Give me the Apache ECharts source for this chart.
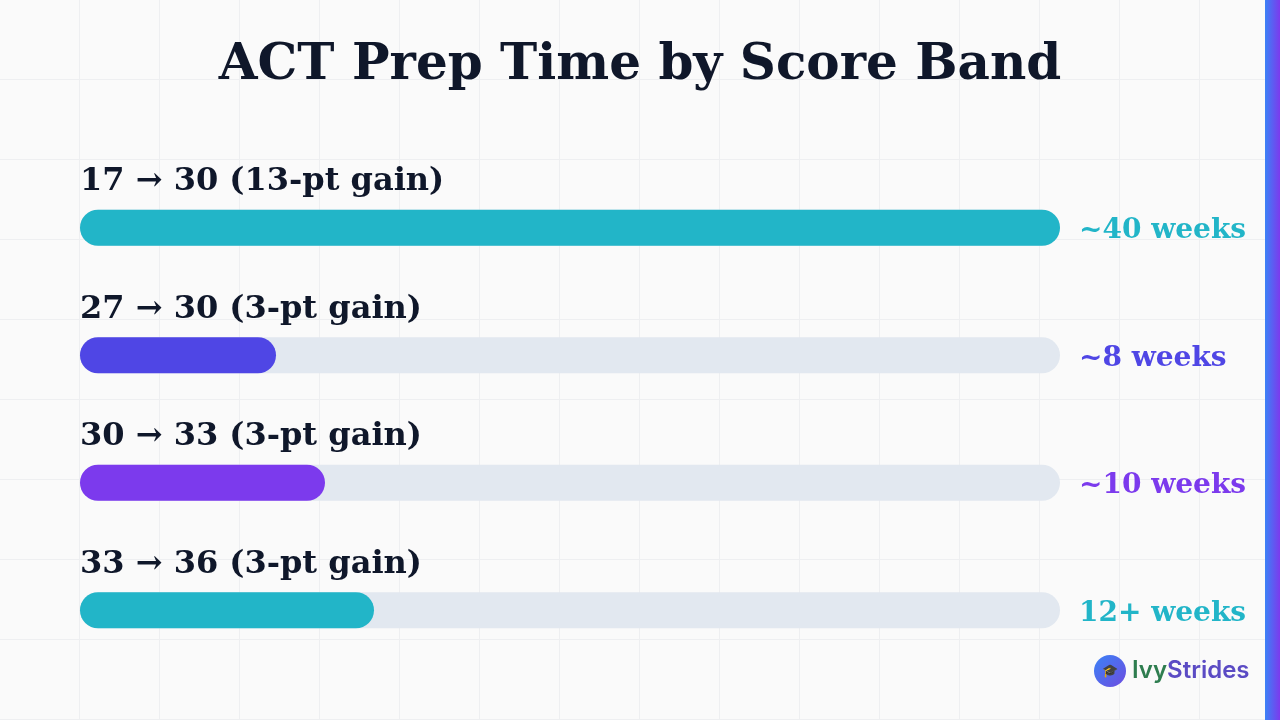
<!DOCTYPE html><html><head><meta charset="utf-8">
<script src="https://cdn.jsdelivr.net/npm/echarts@6/dist/echarts.min.js"></script>
<style>html,body{margin:0;background:#fafafa}#c{width:1280px;height:720px;
background-color:#fafafa;background-image:linear-gradient(#eeeff1 1px,transparent 1px),linear-gradient(90deg,#eeeff1 1px,transparent 1px);background-size:80px 80px;background-position:-1px -1px}</style>
</head><body><div id="c"></div><script>
const categories=['17 → 30 (13-pt gain)','27 → 30 (3-pt gain)','30 → 33 (3-pt gain)','33 → 36 (3-pt gain)'];
const weeks=[40,8,10,12];
const weekLabels=['~40 weeks','~8 weeks','~10 weeks','12+ weeks'];
const colors=['#22b5c8','#4f46e5','#7c3aed','#22b5c8'];
const maxWeeks=40;
const serif='"DejaVu Serif", serif';
const chart=echarts.init(document.getElementById('c'));
chart.setOption({
 title:{text:'ACT Prep Time by Score Band',left:'center',top:36,textStyle:{fontFamily:serif,fontWeight:'bold',fontSize:50,color:'#0f172a'}},
 grid:{left:80,width:980,top:164,height:510},
 xAxis:{type:'value',min:0,max:maxWeeks,show:false},
 yAxis:{type:'category',inverse:true,data:categories,show:false},
 series:[
  {type:'bar',barWidth:36,data:weeks.map(()=>maxWeeks),itemStyle:{color:'#e2e8f0',borderRadius:18},silent:true,
   label:{show:true,position:'right',distance:19,offset:[0,3],
    formatter:p=>'{c'+p.dataIndex+'|'+weekLabels[p.dataIndex]+'}',
    rich:Object.fromEntries(colors.map((c,i)=>['c'+i,{color:c,fontFamily:serif,fontWeight:'bold',fontSize:28}]))}},
  {type:'bar',barWidth:36,barGap:'-100%',data:weeks.map((v,i)=>({value:v,itemStyle:{color:colors[i]}})),itemStyle:{borderRadius:18},
   label:{show:true,position:[0,-28],align:'left',verticalAlign:'middle',formatter:p=>'{t|'+categories[p.dataIndex]+'}',
    rich:{t:{fontFamily:serif,fontWeight:'bold',fontSize:32,color:'#0f172a'}}}}
 ],
 graphic:[
  {type:'rect',shape:{x:1265,y:0,width:15,height:720},style:{fill:new echarts.graphic.LinearGradient(0,0,1,0,[{offset:0,color:'#3b82f6'},{offset:1,color:'#7c3aed'}])}},
  {type:'circle',shape:{cx:1110,cy:671,r:16},style:{fill:new echarts.graphic.LinearGradient(0,0,1,1,[{offset:0,color:'#3b82f6'},{offset:1,color:'#6d4de0'}])}},
  {type:'text',x:1110,y:671,style:{text:'🎓',fontSize:13,align:'center',verticalAlign:'middle',fill:'#fff'}},
  {type:'text',x:1132,y:671,style:{text:'{a|Ivy}{b|Strides}',verticalAlign:'middle',rich:{a:{fontFamily:'Inter',fontSize:24,fontWeight:600,fill:'#2e7d4f'},b:{fontFamily:'Inter',fontSize:24,fontWeight:600,fill:'#5b4bc4'}}}}
 ]
});
</script></body></html>
